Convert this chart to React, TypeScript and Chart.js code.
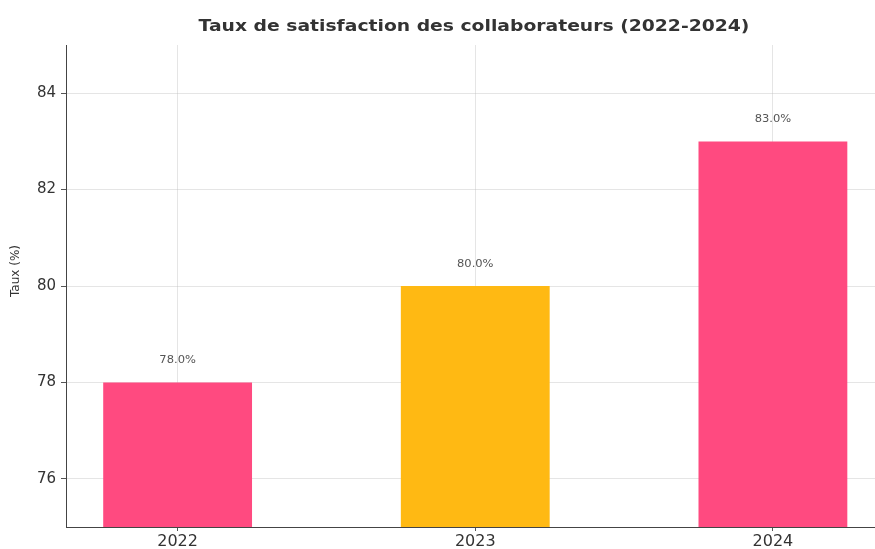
import React, { useEffect, useRef } from "react";
import { Chart, registerables } from "chart.js";

Chart.register(...registerables);

const years = ["2022", "2023", "2024"];
const rates = [78, 80, 83];
const barColors = ["#FF4A80", "#FFB913", "#FF4A80"];
const yTicks = [76, 78, 80, 82, 84];
const yMin = 75;
const yMax = 85;
const xMin = -0.375;
const xMax = 2.343;
const titleText = "Taux de satisfaction des collaborateurs (2022-2024)";
const yTitle = "Taux (%)";

const FONT = "'DejaVu Sans', sans-serif";

const valueLabels = {
  id: "valueLabels",
  afterDatasetsDraw(chart: any) {
    const ctx = chart.ctx;
    const meta = chart.getDatasetMeta(0);
    ctx.save();
    ctx.font = `10px ${FONT}`;
    ctx.fillStyle = "#555";
    ctx.textAlign = "center";
    ctx.textBaseline = "middle";
    meta.data.forEach((el: any, i: number) => {
      ctx.save();
      ctx.translate(el.x, el.y - 22);
      ctx.scale(1.15, 1);
      ctx.fillText(`${rates[i].toFixed(1)}%`, 0, 0);
      ctx.restore();
    });
    ctx.restore();
  },
};

const titles = {
  id: "titles",
  afterDraw(chart: any) {
    const ctx = chart.ctx;
    const area = chart.chartArea;
    ctx.save();
    ctx.fillStyle = "#333";
    ctx.font = `bold 15px ${FONT}`;
    ctx.textAlign = "center";
    ctx.textBaseline = "alphabetic";
    ctx.save();
    ctx.translate(474, 31);
    ctx.scale(1.25, 1);
    ctx.fillText(titleText, 0, 0);
    ctx.restore();
    ctx.font = `12px ${FONT}`;
    ctx.translate(16, (area.top + area.bottom) / 2 - 15);
    ctx.rotate(-Math.PI / 2);
    ctx.textBaseline = "middle";
    ctx.fillText(yTitle, 0, 0);
    ctx.restore();
  },
};

export default function App() {
  const ref = useRef<HTMLCanvasElement | null>(null);
  useEffect(() => {
    if (!ref.current) return;
    const chart = new Chart(ref.current, {
      type: "bar",
      data: {
        datasets: [
          {
            data: years.map((_, i) => ({ x: i, y: rates[i] })),
            backgroundColor: barColors,
            borderWidth: 0,
            categoryPercentage: 0.5,
            barPercentage: 1,
          } as any,
        ],
      },
      options: {
        animation: false,
        responsive: false,
        maintainAspectRatio: false,
        layout: { padding: { left: 0, right: 0, top: 45, bottom: 0 } },
        plugins: {
          legend: { display: false },
          tooltip: { enabled: false },
          title: { display: false },
        },
        scales: {
          x: {
            type: "linear",
            min: xMin,
            max: xMax,
            offset: false,
            z: 1,
            afterBuildTicks: (scale: any) => {
              scale.ticks = years.map((_, i) => ({ value: i }));
            },
            afterFit: (scale: any) => {
              scale.height = 22;
            },
            ticks: {
              color: "#333",
              font: { family: FONT, size: 16 },
              padding: 1,
              maxRotation: 0,
              autoSkip: false,
              callback: (v: any) => years[Math.round(Number(v))] ?? "",
            },
            grid: {
              offset: false,
              color: "rgba(190,190,190,0.4)",
              tickColor: "#555",
              tickLength: 4,
              lineWidth: 1,
            },
            border: { display: true, color: "#444", width: 1 },
          },
          y: {
            type: "linear",
            min: yMin,
            max: yMax,
            z: 1,
            afterBuildTicks: (scale: any) => {
              scale.ticks = yTicks.map((v) => ({ value: v }));
            },
            afterFit: (scale: any) => {
              scale.width = 66;
            },
            ticks: {
              color: "#333",
              font: { family: FONT, size: 15 },
              padding: 5,
              callback: (v: any) => String(v),
            },
            grid: {
              color: "rgba(190,190,190,0.4)",
              tickColor: "#555",
              tickLength: 5,
              lineWidth: 1,
            },
            border: { display: true, color: "#444", width: 1 },
          },
        },
      } as any,
      plugins: [valueLabels, titles],
    });
    return () => chart.destroy();
  }, []);
  return (
    <div style={{ position: "fixed", left: 0, top: 0, width: 875, height: 549, background: "#fff" }}>
      <canvas ref={ref} width={875} height={549} style={{ width: 875, height: 549 }} />
    </div>
  );
}
